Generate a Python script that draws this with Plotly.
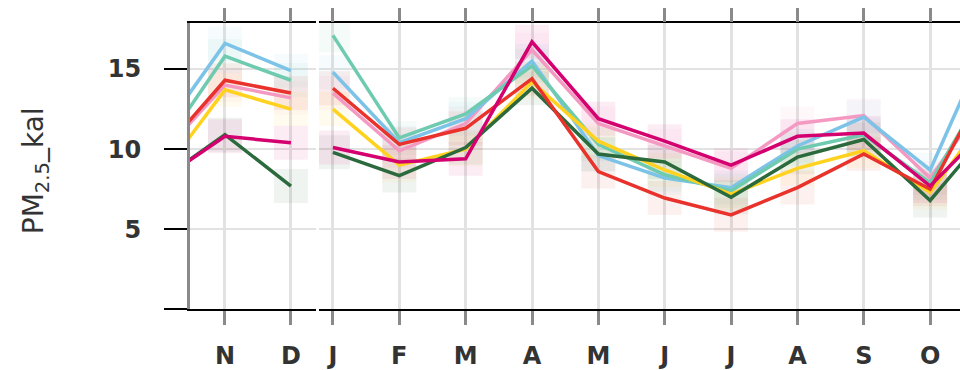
import plotly.graph_objects as go

# ---- data ----
months_prev = ["O", "N", "D"]
months_cur = ["J", "F", "M", "A", "M", "J", "J", "A", "S", "O", "N"]
y_tickvals = [5, 10, 15]
y_ticktext = ["5", "10", "15"]

series_names = ["pink", "blue", "mint", "yellow", "green", "red", "magenta"]
series_colors = ["#F49AC2", "#7DC3E8", "#6FCBB0", "#FFD21F", "#2B6A3C", "#E8322B", "#D4006F"]

pink_prev = [9.5, 14.0, 13.2]
blue_prev = [10.8, 16.6, 14.9]
mint_prev = [9.8, 15.8, 14.3]
yellow_prev = [8.2, 13.7, 12.5]
green_prev = [8.0, 10.9, 7.7]
red_prev = [9.6, 14.3, 13.5]
magenta_prev = [8.0, 10.8, 10.4]

pink_cur = [13.5, 9.9, 11.6, 16.2, 11.6, 10.2, 8.8, 11.6, 12.1, 8.2, 14.0]
blue_cur = [14.8, 10.4, 11.9, 15.5, 9.6, 8.2, 7.6, 10.2, 12.0, 8.7, 18.0]
mint_cur = [17.1, 10.7, 12.2, 15.2, 10.3, 8.4, 7.4, 10.0, 10.9, 7.9, 15.0]
yellow_cur = [12.5, 9.0, 10.0, 14.2, 10.5, 8.7, 7.2, 8.8, 9.9, 7.3, 12.9]
green_cur = [9.8, 8.35, 10.1, 13.8, 9.7, 9.2, 7.0, 9.5, 10.6, 6.8, 11.7]
red_cur = [13.8, 10.3, 11.3, 14.4, 8.6, 6.95, 5.9, 7.6, 9.7, 7.5, 15.3]
magenta_cur = [10.1, 9.2, 9.4, 16.7, 11.9, 10.5, 9.0, 10.8, 11.0, 7.7, 11.9]

prev_data = [pink_prev, blue_prev, mint_prev, yellow_prev, green_prev, red_prev, magenta_prev]
cur_data = [pink_cur, blue_cur, mint_cur, yellow_cur, green_cur, red_cur, magenta_cur]

x_prev = list(range(len(months_prev)))
x_cur = list(range(len(months_cur)))

# only months inside the visible window get a tick label
vis_prev = x_prev[1:]
vis_cur = x_cur[:-1]

FONT = "DejaVu Sans"
fig = go.Figure()

# faint boxes behind points
for name, col, yp, yc in zip(series_names, series_colors, prev_data, cur_data):
    fig.add_trace(go.Scatter(x=x_prev, y=yp, mode="markers", xaxis="x", yaxis="y",
                             marker=dict(symbol="square", size=34, color=col, opacity=0.07),
                             showlegend=False, hoverinfo="skip"))
    fig.add_trace(go.Scatter(x=x_cur, y=yc, mode="markers", xaxis="x2", yaxis="y2",
                             marker=dict(symbol="square", size=34, color=col, opacity=0.07),
                             showlegend=False, hoverinfo="skip"))

for name, col, yp, yc in zip(series_names, series_colors, prev_data, cur_data):
    fig.add_trace(go.Scatter(x=x_prev, y=yp, mode="lines", xaxis="x", yaxis="y",
                             line=dict(color=col, width=3.5), name=name, showlegend=False))
    fig.add_trace(go.Scatter(x=x_cur, y=yc, mode="lines", xaxis="x2", yaxis="y2",
                             line=dict(color=col, width=3.5), name=name, showlegend=False))

ydom = [52 / 370, 346 / 370]
yrange = [0, 17.85]
tickfont = dict(family=FONT, size=24, color="#333333", weight="bold")
xcommon = dict(showline=True, linecolor="black", linewidth=1.5, mirror="ticks",
               ticks="outside", ticklen=14, tickwidth=3, tickcolor="#8a8a8a",
               showgrid=True, gridcolor="#e2e2e2", gridwidth=3, zeroline=False,
               tickfont=tickfont, ticklabelstandoff=10, fixedrange=True)

fig.update_layout(
    width=960, height=370,
    margin=dict(l=0, r=0, t=0, b=0),
    paper_bgcolor="white", plot_bgcolor="white",
    xaxis=dict(domain=[190 / 960, 316 / 960], range=[0.47, 2.38], anchor="y",
               tickvals=vis_prev, ticktext=[months_prev[i] for i in vis_prev], **xcommon),
    xaxis2=dict(domain=[319 / 960, 1.0], range=[-0.21, 9.45], anchor="y2",
                tickvals=vis_cur, ticktext=[months_cur[i] for i in vis_cur], **xcommon),
    yaxis=dict(domain=ydom, range=yrange, anchor="x",
               showline=True, linecolor="#8a8a8a", linewidth=3,
               ticks="outside", ticklen=23, tickwidth=1.5, tickcolor="black",
               tickvals=y_tickvals, ticktext=y_ticktext,
               minor=dict(tickvals=[0], ticks="outside", ticklen=23, tickwidth=1.5,
                          tickcolor="black", showgrid=False),
               showgrid=True, gridcolor="#e2e2e2", gridwidth=2, zeroline=False,
               tickfont=tickfont, ticklabelstandoff=18),
    yaxis2=dict(domain=ydom, range=yrange, anchor="x2", matches="y",
                showline=False, ticks="", showticklabels=False,
                tickvals=y_tickvals,
                showgrid=True, gridcolor="#e2e2e2", gridwidth=2, zeroline=False),
    annotations=[dict(text="PM<sub>2.5</sub>_kal", x=35 / 960, y=(370 - 176) / 370,
                      xref="paper", yref="paper", textangle=-90, showarrow=False,
                      xanchor="center", yanchor="middle",
                      font=dict(family=FONT, size=28, color="#333333"))],
)

fig.write_html("out.html")
